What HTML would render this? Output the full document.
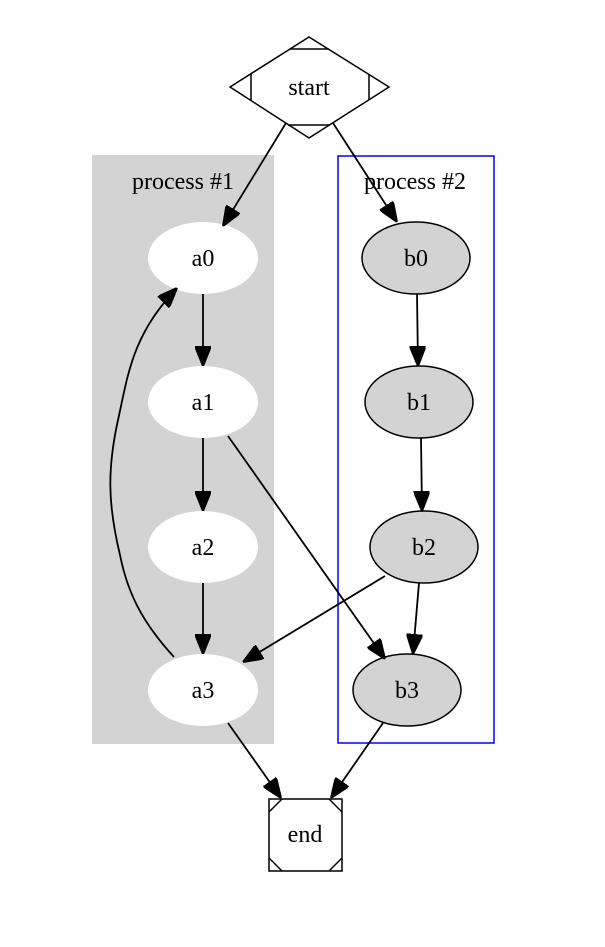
<!DOCTYPE html>
<html><head><meta charset="utf-8"><style>html,body{margin:0;padding:0;background:#fff}svg{display:block}</style></head>
<body>
<svg width="605" height="947" viewBox="0 0 605 947" xmlns="http://www.w3.org/2000/svg" font-family="Liberation Serif, serif" font-size="24">
<defs>
<marker id="ar" viewBox="0 0 10 10" refX="10" refY="5" markerWidth="10" markerHeight="10" markerUnits="userSpaceOnUse" orient="auto">
<path d="M0,0 L10,5 L0,10 z" fill="#000"/>
</marker>
<marker id="ah" viewBox="0 0 10 8" refX="10" refY="4" markerWidth="20" markerHeight="16" markerUnits="userSpaceOnUse" orient="auto">
<path d="M0,0 L10,4 L0,8 z" fill="#000" stroke="#000"/>
</marker>
</defs>
<rect x="92" y="155" width="182" height="589" fill="#d3d3d3"/>
<text x="183" y="189" text-anchor="middle" fill="#000">process #1</text>
<rect x="338" y="156" width="156" height="587" fill="none" stroke="#0000ff" stroke-width="1.5"/>
<text x="415" y="189" text-anchor="middle" fill="#000">process #2</text>

<g fill="#fff">
<ellipse cx="203" cy="258" rx="55" ry="36"/>
<ellipse cx="203" cy="402" rx="55" ry="36"/>
<ellipse cx="203" cy="547" rx="55" ry="36"/>
<ellipse cx="203" cy="690" rx="55" ry="36"/>
</g>
<g fill="#d3d3d3" stroke="#000" stroke-width="1.5">
<ellipse cx="416" cy="258" rx="54" ry="36"/>
<ellipse cx="419" cy="402" rx="54" ry="36"/>
<ellipse cx="424" cy="547" rx="54" ry="36"/>
<ellipse cx="407" cy="690" rx="54" ry="36"/>
</g>

<g fill="none" stroke="#000" stroke-width="1.8" marker-end="url(#ah)">
<line x1="286" y1="123" x2="223" y2="226"/>
<line x1="333" y1="123" x2="397" y2="222"/>
<line x1="203" y1="294" x2="203" y2="366"/>
<line x1="203" y1="438" x2="203" y2="511"/>
<line x1="203" y1="583" x2="203" y2="654"/>
<line x1="417" y1="294" x2="418" y2="366"/>
<line x1="421" y1="438" x2="422" y2="511"/>
<line x1="228" y1="436" x2="385" y2="659"/>
<line x1="385" y1="576" x2="243" y2="662"/>
<line x1="419" y1="583" x2="413" y2="654"/>
<line x1="228" y1="723" x2="281" y2="798"/>
<line x1="383" y1="723" x2="331" y2="798"/>
<path d="M174,657 C140,620 127,590 120,555 C108,505 107,470 118,420 C128,375 132,335 177,288"/>
</g>

<g fill="none" stroke="#000" stroke-width="1.5">
<polygon points="230,87 309,37 389,87 309,138" fill="#fff"/>
<line x1="290" y1="49" x2="329" y2="49"/>
<line x1="251" y1="74" x2="251" y2="100"/>
<line x1="369" y1="74" x2="369" y2="100"/>
<line x1="288" y1="125" x2="330" y2="125"/>
<rect x="269" y="799" width="73" height="72" fill="#fff"/>
<line x1="269" y1="812" x2="282" y2="799"/>
<line x1="329" y1="799" x2="342" y2="812"/>
<line x1="269" y1="858" x2="282" y2="871"/>
<line x1="329" y1="871" x2="342" y2="858"/>
</g>

<g text-anchor="middle" fill="#000">
<text x="309" y="95">start</text>
<text x="203" y="266">a0</text>
<text x="203" y="410">a1</text>
<text x="203" y="555">a2</text>
<text x="203" y="698">a3</text>
<text x="416" y="266">b0</text>
<text x="419" y="410">b1</text>
<text x="424" y="555">b2</text>
<text x="407" y="698">b3</text>
<text x="305" y="842">end</text>
</g>
</svg>
</body></html>
